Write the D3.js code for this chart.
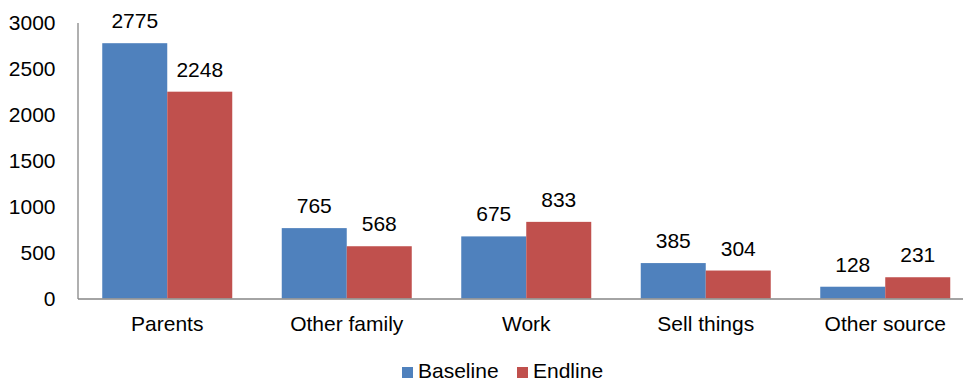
<!DOCTYPE html>
<html><head><meta charset="utf-8">
<script src="https://cdn.jsdelivr.net/npm/d3@7"></script>
<style>body{margin:0;background:#fff}svg{display:block}text{font-family:"Liberation Sans",Arial,sans-serif;fill:#000}</style>
</head><body><svg id="c" width="963" height="381"></svg>
<script>
const categories = ["Parents","Other family","Work","Sell things","Other source"];
const seriesNames = ["Baseline","Endline"];
const baseline = [2775,765,675,385,128];
const endline = [2248,568,833,304,231];
const yTicks = [0,500,1000,1500,2000,2500,3000];
const colors = ["#4F81BD","#C0504D"];

const FS = 21;
const svg = d3.select("#c");
const m = {l:77.5, r:975, t:22.5, b:298.5};
const x = d3.scaleBand().domain(categories).range([m.l, m.r]).paddingInner(49.5/179.5).paddingOuter(24.75/179.5);
const xs = d3.scaleBand().domain(seriesNames).range([0, x.bandwidth()]);
const y = d3.scaleLinear().domain([0,3000]).range([m.b, m.t]);
const data = categories.map((c,i)=>({c, v:[baseline[i], endline[i]]}));

const g = svg.append("g");
data.forEach(d=>{
  seriesNames.forEach((s,j)=>{
    g.append("rect").attr("x", x(d.c)+xs(s)).attr("y", y(d.v[j]))
      .attr("width", xs.bandwidth()).attr("height", y(0)-y(d.v[j])).attr("fill", colors[j]);
    g.append("text").attr("x", x(d.c)+xs(s)+xs.bandwidth()/2).attr("y", y(d.v[j])-15)
      .attr("text-anchor","middle").attr("font-size",FS).text(d.v[j]);
  });
});

const ya = svg.append("g").attr("transform",`translate(${m.l},0)`)
  .call(d3.axisLeft(y).tickValues(yTicks).tickFormat(d3.format("d")).tickSize(0).tickPadding(22));
ya.select(".domain").attr("stroke","#868686").attr("stroke-width",1.3);
ya.selectAll("text").attr("font-size",FS).attr("font-family","Liberation Sans, Arial, sans-serif").attr("fill","#000");

const xa = svg.append("g").attr("transform",`translate(0,${m.b})`)
  .call(d3.axisBottom(x).tickSize(0).tickPadding(17.5));
xa.select(".domain").attr("stroke","#868686").attr("stroke-width",1.3);
xa.selectAll("text").attr("font-size",FS).attr("font-family","Liberation Sans, Arial, sans-serif").attr("fill","#000");

const lg = svg.append("g");
const lx = [402, 517];
seriesNames.forEach((s,j)=>{
  lg.append("rect").attr("x", lx[j]).attr("y", 367).attr("width",11).attr("height",11).attr("fill",colors[j]);
  lg.append("text").attr("x", lx[j]+16).attr("y", 377.5).attr("font-size",FS).text(s);
});
</script></body></html>
